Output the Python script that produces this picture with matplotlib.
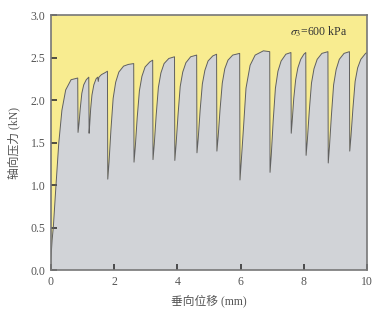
import numpy as np
import matplotlib.pyplot as plt

plt.rcParams['font.family'] = ['Liberation Serif', 'Noto Sans CJK SC']
plt.rcParams['mathtext.fontset'] = 'stix'

# displacement (mm) and axial force (kN), cycle by cycle
disp = [0.0, 0.0, 0.04, 0.08, 0.16, 0.25, 0.35, 0.47, 0.64, 0.85,
        0.86, 0.89, 0.93, 0.98, 1.04, 1.12, 1.20,
        1.21, 1.23, 1.26, 1.30, 1.36, 1.43, 1.48, 1.50, 1.52, 1.60, 1.70, 1.79,
        1.80, 1.84, 1.90, 1.97, 2.05, 2.15, 2.30, 2.45, 2.62,
        2.63, 2.67, 2.73, 2.80, 2.88, 2.98, 3.13, 3.22,
        3.23, 3.27, 3.33, 3.40, 3.48, 3.58, 3.73, 3.91,
        3.92, 3.96, 4.02, 4.09, 4.17, 4.27, 4.42, 4.61,
        4.62, 4.66, 4.72, 4.79, 4.87, 4.97, 5.12, 5.24,
        5.25, 5.29, 5.35, 5.42, 5.50, 5.60, 5.75, 5.97,
        5.98, 6.02, 6.09, 6.17, 6.30, 6.46, 6.72, 6.92,
        6.93, 6.97, 7.03, 7.10, 7.18, 7.28, 7.43, 7.59,
        7.60, 7.63, 7.68, 7.74, 7.81, 7.90, 8.00, 8.06,
        8.07, 8.11, 8.17, 8.24, 8.32, 8.42, 8.57, 8.76,
        8.77, 8.81, 8.87, 8.94, 9.02, 9.12, 9.27, 9.44,
        9.45, 9.49, 9.55, 9.62, 9.70, 9.80, 9.95, 10.0]
force = [0.0, 0.12, 0.35, 0.51, 0.98, 1.49, 1.88, 2.12, 2.24, 2.26,
         1.62, 1.72, 1.90, 2.08, 2.18, 2.24, 2.27,
         1.61, 1.72, 1.90, 2.06, 2.18, 2.25, 2.27, 2.22, 2.27, 2.30, 2.32, 2.34,
         1.07, 1.27, 1.65, 2.02, 2.21, 2.33, 2.40, 2.42, 2.43,
         1.27, 1.45, 1.79, 2.11, 2.28, 2.39, 2.45, 2.47,
         1.30, 1.48, 1.82, 2.15, 2.32, 2.43, 2.49, 2.51,
         1.29, 1.48, 1.82, 2.16, 2.33, 2.44, 2.51, 2.53,
         1.38, 1.55, 1.88, 2.19, 2.35, 2.46, 2.52, 2.54,
         1.40, 1.57, 1.89, 2.20, 2.37, 2.47, 2.53, 2.55,
         1.06, 1.28, 1.67, 2.14, 2.41, 2.53, 2.58, 2.57,
         1.15, 1.36, 1.76, 2.14, 2.34, 2.46, 2.54, 2.56,
         1.61, 1.75, 2.02, 2.24, 2.38, 2.48, 2.54, 2.56,
         1.35, 1.53, 1.87, 2.20, 2.37, 2.48, 2.55, 2.57,
         1.26, 1.46, 1.82, 2.18, 2.36, 2.48, 2.55, 2.57,
         1.40, 1.58, 1.90, 2.22, 2.38, 2.48, 2.55, 2.56]

yellow = '#f8ec90'
grey = '#d1d3d7'

fig = plt.figure(figsize=(3.91, 3.09), dpi=100)
ax = fig.add_axes([0.130, 0.126, 0.809, 0.825])
ax.set_facecolor(yellow)

x = np.array(disp)
y = np.array(force)
ax.fill(np.r_[x, x[-1], x[0]], np.r_[y, 0, 0], color=grey, lw=0)
ax.plot(x, y, color='#606060', lw=0.7)

ax.set_xlim(0, 10)
ax.set_ylim(0, 3.0)
ax.set_xticks([0, 2, 4, 6, 8, 10])
ax.set_yticks(np.arange(0, 3.01, 0.5))
ax.yaxis.set_major_formatter(plt.FormatStrFormatter('%.1f'))
ax.tick_params(direction='in', length=4, width=1.2, color='#333333',
               labelsize=8.5, labelcolor='#555555', pad=4)

for s in ax.spines.values():
    s.set_color('#777777')
    s.set_linewidth(1.2)

ax.text(9.36, 2.80, r'$\sigma_3$=600 kPa', ha='right', va='center',
        fontsize=8.5, color='#333333')

ax.set_xlabel('垂向位移 (mm)', fontsize=8.5, color='#555555', labelpad=5)
ax.set_ylabel('轴向压力 (kN)', fontsize=8.5, color='#555555', labelpad=7)

fig.savefig('out.png', dpi=100)
